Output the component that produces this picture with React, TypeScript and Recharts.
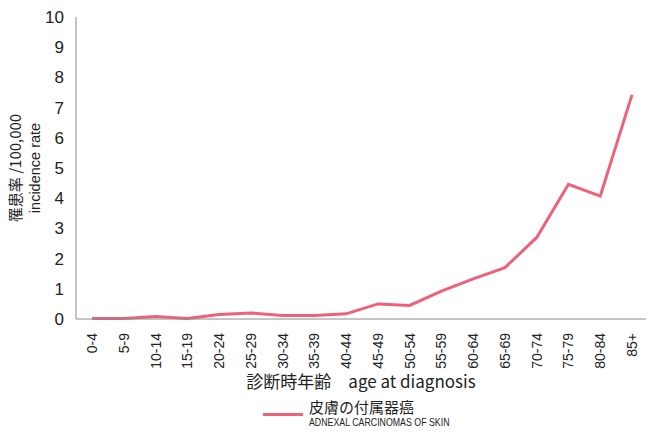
import { LineChart, Line, XAxis, YAxis } from 'recharts'

const ageGroups = [
  '0-4', '5-9', '10-14', '15-19', '20-24', '25-29', '30-34', '35-39', '40-44',
  '45-49', '50-54', '55-59', '60-64', '65-69', '70-74', '75-79', '80-84', '85+',
]
const incidence = [
  0.02, 0.02, 0.08, 0.02, 0.15, 0.2, 0.12, 0.12, 0.17,
  0.5, 0.45, 0.92, 1.33, 1.7, 2.7, 4.46, 4.07, 7.42,
]
const yTicks = [0, 1, 2, 3, 4, 5, 6, 7, 8, 9, 10]

const data = ageGroups.map((age, i) => ({ age, rate: incidence[i] }))

const FONT = 'Arial, "Liberation Sans", sans-serif'
const JP = '"Noto Sans CJK JP", sans-serif'
const PINK = '#ee6178'
const AXIS = '#8a8a8a'

function AgeTick({ x, y, payload }: any) {
  return (
    <text
      x={x}
      y={y + 6}
      transform={`rotate(-90, ${x}, ${y + 6})`}
      textAnchor="end"
      dy={5}
      fontSize={14}
      fill="#222"
      fontFamily={FONT}
    >
      {payload.value}
    </text>
  )
}

export default function App() {
  return (
    <div style={{ position: 'absolute', left: 0, top: 0, width: 651, height: 436, background: '#fff' }}>
      <LineChart
        width={651}
        height={436}
        data={data}
        margin={{ top: 17, right: 5, left: 0, bottom: 0 }}
      >
        <XAxis
          dataKey="age"
          height={117}
          stroke={AXIS}
          tickLine={false}
          interval={0}
          padding={{ left: 16, right: 14 }}
          tick={<AgeTick />}
          label={{
            value: '診断時年齢　age at diagnosis',
            position: 'insideTop',
            offset: 57,
            fontSize: 17,
            fill: '#222',
            fontFamily: JP,
          }}
        />
        <YAxis
          domain={[0, 10]}
          ticks={yTicks}
          width={76}
          stroke={AXIS}
          tickLine={false}
          tick={{ fontSize: 17, fill: '#222', fontFamily: FONT }}
          tickMargin={6}
          label={(props: any) => {
            const { viewBox } = props
            const cy = viewBox.y + viewBox.height / 2
            return (
              <g transform={`translate(0, ${cy}) rotate(-90)`}>
                <text x={0} y={21} textAnchor="middle" fontSize={15} fill="#222" fontFamily={JP}>
                  罹患率 /100,000
                </text>
                <text x={0} y={40} textAnchor="middle" fontSize={14.5} fill="#222" fontFamily={FONT}>
                  incidence rate
                </text>
              </g>
            )
          }}
        />
        <Line
          type="linear"
          dataKey="rate"
          stroke={PINK}
          strokeWidth={3}
          dot={false}
          isAnimationActive={false}
        />
      </LineChart>
      <div
        style={{
          position: 'absolute',
          left: 263,
          top: 398,
          display: 'flex',
          alignItems: 'center',
          fontFamily: FONT,
          color: '#222',
        }}
      >
        <div style={{ width: 40, height: 3, background: PINK, marginRight: 6, marginTop: 2 }} />
        <div>
          <div style={{ fontSize: 15, lineHeight: '18px', fontFamily: JP }}>皮膚の付属器癌</div>
          <div style={{ fontSize: 11, lineHeight: '13px', transform: 'scaleX(0.8)', transformOrigin: 'left' }}>
            ADNEXAL CARCINOMAS OF SKIN
          </div>
        </div>
      </div>
    </div>
  )
}
